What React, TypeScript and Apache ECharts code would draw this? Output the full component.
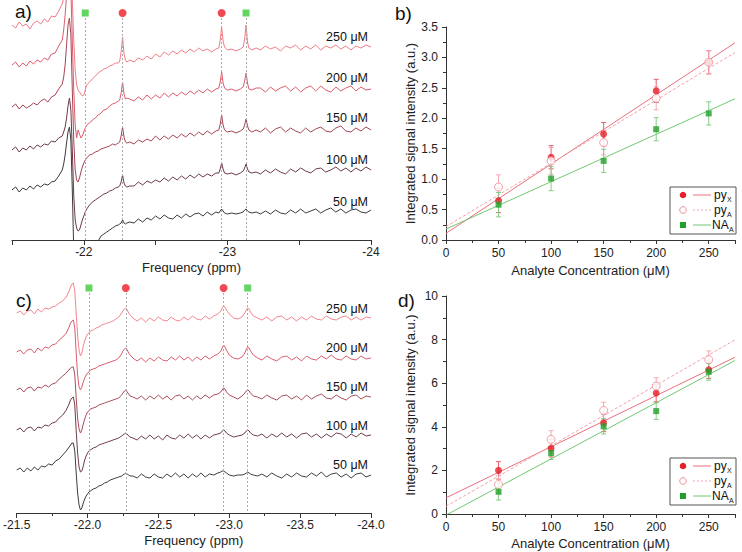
import React, { useEffect, useRef } from 'react';
import * as echarts from 'echarts';

const FONT = '"Liberation Sans", Arial, Helvetica, sans-serif';

// chemical shift grid (ppm) shared by the spectra of panels a) and c)
const ppmGrid = [
  -21.5, -21.525, -21.55, -21.575, -21.6, -21.625, -21.65, -21.675, -21.7, -21.725, -21.75, -21.775, -21.8, -21.825, -21.85,
  -21.86, -21.87, -21.88, -21.89, -21.9, -21.91, -21.92, -21.93, -21.94, -21.95, -21.96, -21.97, -21.98, -21.99, -22, -22.01, -22.02,
  -22.04, -22.06, -22.08, -22.1, -22.12, -22.14, -22.16, -22.18, -22.2, -22.22, -22.24, -22.25, -22.26, -22.27, -22.28, -22.29, -22.3, -22.32,
  -22.35, -22.38, -22.41, -22.44, -22.47, -22.5, -22.53, -22.56, -22.59, -22.62, -22.65, -22.68, -22.71, -22.74, -22.77, -22.8, -22.83, -22.86, -22.89, -22.92,
  -22.94, -22.95, -22.96, -22.97, -22.98, -23, -23.03, -23.06, -23.09, -23.11, -23.12, -23.13, -23.14, -23.15, -23.17, -23.2,
  -23.23, -23.265, -23.3, -23.335, -23.37, -23.405, -23.44, -23.475, -23.51, -23.545, -23.58, -23.615, -23.65, -23.685, -23.72, -23.755, -23.79, -23.825, -23.86, -23.895, -23.93, -23.965, -24,
];

const concentrationLabels = ['250 μM', '200 μM', '150 μM', '100 μM', '50 μM'];

// panel a) stacked spectra (offset intensity, a.u.)
const specA250 = [
  215, 212, 218, 214, 216, 211, 217, 219, 216, 221, 218, 224, 223, 229, 236,
  242, 250, 260, 270, 275, 265, 240, 200, 170, 155, 150, 148, 146, 144, 145, 150, 155,
  158, 161, 164, 167, 169, 171, 172, 174, 175, 177, 177, 179, 188, 203, 186, 180, 178, 180,
  178, 182, 180, 184, 181, 186, 183, 188, 185, 189, 186, 190, 187, 191, 188, 192, 189, 191, 188, 191,
  192, 200, 213, 199, 193, 190, 191, 189, 191, 193, 201, 215, 198, 192, 190, 192,
  190, 194, 191, 193, 189, 194, 192, 195, 190, 194, 191, 195, 190, 194, 192, 195, 191, 194, 190, 194, 192, 195, 193,
];
const specA200 = [
  175, 178, 173, 177, 174, 179, 176, 180, 178, 182, 180, 186, 187, 194, 200,
  210, 225, 245, 260, 265, 250, 200, 150, 115, 102, 110, 106, 102, 104, 108, 112, 115,
  117, 120, 122, 125, 127, 130, 131, 134, 136, 137, 139, 140, 147, 158, 146, 141, 142, 141,
  139, 143, 140, 145, 141, 145, 142, 147, 143, 147, 144, 148, 145, 149, 146, 150, 147, 151, 148, 151,
  152, 158, 168, 157, 152, 150, 151, 149, 151, 153, 159, 167, 157, 151, 150, 152,
  152, 148, 153, 149, 152, 154, 149, 153, 148, 152, 154, 149, 154, 150, 148, 153, 149, 152, 154, 149, 153, 150, 151,
];
const specA150 = [
  133, 136, 131, 135, 132, 134, 137, 135, 139, 141, 138, 143, 145, 151, 156,
  163, 175, 195, 215, 222, 205, 150, 100, 70, 60, 58, 62, 68, 73, 77, 80, 82,
  85, 86, 88, 89, 91, 92, 93, 94, 96, 95, 97, 98, 104, 113, 103, 98, 97, 98,
  96, 100, 98, 101, 99, 104, 100, 104, 101, 105, 102, 106, 103, 107, 104, 108, 105, 109, 106, 109,
  110, 116, 125, 115, 110, 108, 109, 107, 109, 111, 115, 121, 114, 110, 108, 110,
  108, 112, 107, 111, 113, 108, 112, 109, 107, 112, 108, 111, 113, 109, 108, 112, 114, 109, 108, 112, 109, 113, 110,
];
const specA100 = [
  90, 93, 88, 92, 90, 94, 91, 95, 93, 96, 95, 99, 98, 102, 104,
  108, 113, 122, 134, 142, 130, 90, 45, 20, 12, 9, 10, 15, 20, 24, 28, 31,
  35, 38, 40, 42, 44, 46, 47, 49, 50, 52, 53, 54, 58, 65, 57, 54, 53, 54,
  54, 58, 55, 59, 57, 60, 58, 62, 59, 63, 60, 64, 61, 65, 62, 66, 63, 66, 64, 67,
  67, 71, 77, 71, 67, 66, 67, 65, 67, 69, 72, 76, 71, 68, 67, 68,
  66, 70, 67, 71, 68, 66, 71, 68, 72, 69, 67, 71, 72, 68, 70, 73, 69, 72, 68, 72, 69, 73, 70,
];
const specA50 = [
  50, 53, 48, 52, 50, 54, 51, 55, 53, 56, 55, 58, 59, 64, 70,
  76, 85, 97, 108, 113, 100, 50, -10, -40, -50, -50, -45, -40, -35, -30, -25, -20,
  -15, -10, -5, -1, 4, 6, 8, 10, 12, 14, 15, 16, 17, 20, 17, 16, 17, 18,
  17, 21, 18, 22, 20, 24, 21, 25, 22, 21, 25, 22, 26, 23, 26, 27, 24, 28, 25, 28,
  27, 29, 31, 29, 27, 26, 27, 26, 27, 28, 30, 31, 29, 28, 27, 28,
  26, 29, 26, 30, 27, 26, 30, 27, 31, 27, 29, 31, 27, 30, 32, 28, 31, 27, 30, 31, 28, 27, 30,
];

// panel c) stacked spectra (offset intensity, a.u.)
const specC250 = [
  200, 202, 198, 202, 203, 199, 204, 201, 205, 204, 206, 207, 210, 212, 216,
  219, 222, 226, 229, 230, 222, 200, 178, 163, 157, 160, 167, 172, 176, 179, 180, 182,
  183, 185, 186, 188, 189, 190, 191, 192, 194, 196, 200, 202, 204, 205, 203, 200, 198, 195,
  192, 195, 191, 195, 192, 196, 193, 192, 196, 193, 192, 196, 193, 197, 194, 193, 197, 194, 197, 199,
  202, 205, 207, 206, 203, 199, 195, 194, 196, 200, 203, 205, 204, 201, 197, 195,
  193, 196, 192, 196, 197, 193, 196, 192, 196, 193, 197, 194, 193, 197, 194, 193, 196, 197, 193, 196, 193, 196, 195,
];
const specC200 = [
  161, 163, 159, 163, 164, 160, 165, 162, 166, 165, 168, 169, 173, 176, 180,
  183, 186, 190, 192, 193, 185, 160, 138, 126, 123, 126, 131, 135, 138, 140, 141, 143,
  144, 145, 147, 148, 149, 150, 151, 152, 153, 155, 159, 162, 164, 165, 163, 160, 158, 155,
  152, 155, 151, 155, 152, 156, 153, 152, 156, 153, 157, 153, 156, 152, 156, 153, 157, 154, 157, 159,
  162, 165, 168, 166, 163, 158, 155, 154, 156, 160, 164, 166, 165, 162, 158, 155,
  153, 157, 154, 152, 156, 157, 153, 156, 152, 157, 154, 153, 157, 154, 158, 154, 153, 157, 154, 153, 157, 154, 155,
];
const specC150 = [
  123, 125, 121, 125, 126, 122, 126, 125, 128, 126, 129, 130, 134, 137, 140,
  142, 143, 145, 146, 146, 138, 115, 95, 84, 80, 83, 89, 94, 98, 101, 102, 104,
  105, 106, 108, 109, 110, 111, 112, 113, 114, 115, 118, 120, 122, 123, 121, 119, 117, 116,
  114, 117, 113, 117, 114, 118, 114, 117, 113, 117, 118, 114, 117, 113, 117, 114, 118, 115, 118, 119,
  121, 123, 125, 124, 121, 118, 116, 114, 117, 120, 122, 123, 122, 120, 117, 116,
  114, 118, 115, 113, 117, 118, 114, 117, 113, 118, 114, 117, 119, 115, 114, 118, 115, 113, 117, 118, 114, 117, 116,
];
const specC100 = [
  83, 85, 81, 85, 86, 82, 86, 85, 88, 87, 90, 91, 95, 98, 103,
  106, 109, 113, 115, 116, 108, 82, 60, 46, 41, 42, 47, 53, 57, 60, 62, 63,
  65, 66, 68, 69, 70, 71, 72, 73, 74, 75, 77, 78, 79, 80, 79, 77, 76, 75,
  73, 77, 74, 78, 74, 77, 73, 78, 75, 74, 78, 75, 79, 75, 78, 74, 78, 75, 78, 79,
  80, 82, 83, 82, 80, 78, 76, 77, 78, 80, 82, 83, 82, 80, 78, 77,
  79, 75, 79, 76, 80, 76, 79, 75, 79, 80, 76, 79, 75, 79, 76, 80, 79, 75, 79, 76, 80, 77, 78,
];
const specC50 = [
  43, 45, 41, 45, 42, 46, 43, 47, 46, 49, 48, 52, 54, 58, 62,
  64, 66, 68, 70, 70, 62, 40, 20, 8, 3, 5, 10, 14, 17, 19, 21, 22,
  24, 25, 27, 28, 30, 31, 33, 34, 35, 36, 37, 38, 39, 40, 39, 38, 37, 37,
  35, 39, 36, 35, 39, 36, 35, 39, 36, 40, 36, 39, 35, 39, 36, 40, 36, 39, 38, 40,
  41, 42, 42, 41, 40, 38, 37, 38, 38, 39, 40, 41, 40, 39, 38, 37,
  39, 36, 40, 37, 35, 39, 36, 40, 37, 36, 40, 37, 41, 36, 39, 40, 36, 39, 35, 39, 40, 36, 38,
];

// peak assignments (ppm)
const naPeakPpm = [-22.01, -23.13];
const pyPeakPpm = [-22.27, -22.96];

// panels b) and d)
const concentration = [50, 100, 150, 200, 250];
const bPyX = [0.65, 1.36, 1.74, 2.45, 2.92];
const bPyXErr = [0.2, 0.19, 0.19, 0.19, 0.19];
const bPyA = [0.87, 1.3, 1.6, 2.33, 2.92];
const bPyAErr = [0.2, 0.22, 0.2, 0.19, 0.19];
const bNA = [0.58, 1.01, 1.3, 1.82, 2.08];
const bNAErr = [0.2, 0.2, 0.19, 0.19, 0.19];

const dPyX = [2.0, 3.02, 4.18, 5.55, 6.62];
const dPyXErr = [0.4, 0.4, 0.4, 0.4, 0.4];
const dPyA = [1.35, 3.42, 4.75, 5.87, 7.08];
const dPyAErr = [0.4, 0.4, 0.38, 0.38, 0.4];
const dNA = [1.02, 2.8, 4.02, 4.72, 6.52];
const dNAErr = [0.38, 0.3, 0.35, 0.38, 0.38];

const fitX = [0, 275];
const bFitPyX = [0.11, 3.24];
const bFitPyA = [0.22, 3.08];
const bFitNA = [0.18, 2.32];
const dFitPyX = [0.74, 7.19];
const dFitPyA = [0.35, 7.99];
const dFitNA = [-0.05, 7.04];

const colorsA = ['#f07c84', '#dc5a6a', '#a44454', '#6c3a44', '#3a3a3a'];
const colorsC = ['#f2868e', '#d85e6e', '#a84c5c', '#6e3e48', '#3e3e3e'];

const RED = '#e3202a';
const PINK = '#f08a96';
const GREEN = '#20a02a';

const zip = (xs: number[], ys: number[]) => xs.map((x, i) => [x, ys[i]]);

function specX(grid: number, formatter: (v: number) => string, minor: boolean) {
  return {
    gridIndex: grid, type: 'value', min: -24, max: -21.5, inverse: true, interval: 0.5,
    axisLine: { show: true, onZero: false, lineStyle: { color: '#333', width: 1 } },
    axisTick: { show: true, length: 5, lineStyle: { color: '#333' } },
    minorTick: { show: minor, splitNumber: 2, length: 3, lineStyle: { color: '#333' } },
    axisLabel: { formatter, fontSize: 12, color: '#222', fontFamily: FONT, margin: 6 },
    splitLine: { show: false }, minorSplitLine: { show: false },
    name: 'Frequency (ppm)', nameLocation: 'middle', nameGap: 21,
    nameTextStyle: { fontSize: 13, color: '#222', fontFamily: FONT },
  };
}

function concX(grid: number, gap: number) {
  return {
    gridIndex: grid, type: 'value', min: 0, max: 275, interval: 50,
    axisLine: { show: true, onZero: false, lineStyle: { color: '#333', width: 1 } },
    axisTick: { show: true, length: 4, lineStyle: { color: '#333' } },
    minorTick: { show: true, splitNumber: 2, length: 3, lineStyle: { color: '#333' } },
    axisLabel: { formatter: (v: number) => (v % 50 === 0 ? String(v) : ''), fontSize: 12, color: '#222', fontFamily: FONT, margin: 7 },
    splitLine: { show: false }, minorSplitLine: { show: false },
    name: 'Analyte Concentration (μM)', nameLocation: 'middle', nameGap: gap,
    nameTextStyle: { fontSize: 13, color: '#222', fontFamily: FONT },
  };
}

function concY(grid: number, max: number, interval: number, formatter: (v: number) => string) {
  return {
    gridIndex: grid, type: 'value', min: 0, max, interval,
    axisLine: { show: true, onZero: false, lineStyle: { color: '#333', width: 1 } },
    axisTick: { show: true, length: 4, lineStyle: { color: '#333' } },
    minorTick: { show: true, splitNumber: 2, length: 3, lineStyle: { color: '#333' } },
    axisLabel: { formatter, fontSize: 12, color: '#222', fontFamily: FONT, margin: 8 },
    splitLine: { show: false }, minorSplitLine: { show: false },
    name: 'Integrated signal intensity (a.u.)', nameLocation: 'middle', nameGap: 29, nameRotate: 90,
    nameTextStyle: { fontSize: 13, color: '#222', fontFamily: FONT },
  };
}

function spectrum(idx: number, data: number[], color: string) {
  return {
    type: 'line', xAxisIndex: idx, yAxisIndex: idx, data: zip(ppmGrid, data),
    showSymbol: false, symbol: 'none', clip: true, silent: true, z: 2,
    lineStyle: { color, width: 1 },
  };
}

function peakMarkers(idx: number, level: number) {
  const all = [...naPeakPpm, ...pyPeakPpm];
  return [
    {
      type: 'scatter', xAxisIndex: idx, yAxisIndex: idx, silent: true, z: 6,
      data: pyPeakPpm.map((p) => [p, level]), symbol: 'circle', symbolSize: 8,
      itemStyle: { color: '#ee1c25' },
    },
    {
      type: 'scatter', xAxisIndex: idx, yAxisIndex: idx, silent: true, z: 6,
      data: naPeakPpm.map((p) => [p, level]), symbol: 'rect', symbolSize: 7,
      itemStyle: { color: '#39cc39' },
      markLine: {
        silent: true, symbol: 'none', label: { show: false },
        lineStyle: { color: '#ababab', type: [2, 2], width: 1 },
        data: all.map((p) => [{ coord: [p, level - 5] }, { coord: [p, 0] }]),
      },
    },
  ];
}

function errorBars(idx: number, ys: number[], es: number[], color: string) {
  return {
    type: 'custom', xAxisIndex: idx, yAxisIndex: idx, silent: true, z: 3,
    data: concentration.map((x, i) => [x, ys[i], es[i]]),
    encode: { x: 0, y: 1 },
    renderItem: (_params: any, api: any) => {
      const x = api.value(0);
      const y = api.value(1);
      const e = api.value(2);
      const top = api.coord([x, y + e]);
      const bot = api.coord([x, y - e]);
      const hw = 2.5;
      const style = { stroke: color, lineWidth: 1 };
      return {
        type: 'group',
        children: [
          { type: 'line', shape: { x1: top[0], y1: top[1], x2: bot[0], y2: bot[1] }, style },
          { type: 'line', shape: { x1: top[0] - hw, y1: top[1], x2: top[0] + hw, y2: top[1] }, style },
          { type: 'line', shape: { x1: bot[0] - hw, y1: bot[1], x2: bot[0] + hw, y2: bot[1] }, style },
        ],
      };
    },
  };
}

function fitLine(idx: number, ys: number[], color: string, dashed: boolean) {
  return {
    type: 'line', xAxisIndex: idx, yAxisIndex: idx, data: zip(fitX, ys), silent: true,
    showSymbol: false, symbol: 'none', clip: true, z: 4,
    lineStyle: { color, width: 1, type: dashed ? [3, 2] : 'solid' },
  };
}

function points(idx: number, ys: number[], kind: 'pyX' | 'pyA' | 'NA') {
  const base: any = { type: 'scatter', xAxisIndex: idx, yAxisIndex: idx, silent: true, data: zip(concentration, ys) };
  if (kind === 'pyX') return { ...base, z: 5, symbol: 'circle', symbolSize: 7, itemStyle: { color: RED } };
  if (kind === 'pyA') return { ...base, z: 6, symbol: 'circle', symbolSize: 8, itemStyle: { color: '#fff', borderColor: PINK, borderWidth: 1 } };
  return { ...base, z: 7, symbol: 'rect', symbolSize: 6, itemStyle: { color: GREEN } };
}

function text(x: number, y: number, t: string, size: number, align = 'left', color = '#111') {
  return {
    type: 'text', x, y, silent: true, z: 100,
    style: { text: t, fontSize: size, fontFamily: FONT, fill: color, align, verticalAlign: 'middle' },
  };
}

function legendBox(top: number) {
  const rows = [top + 8, top + 23, top + 38];
  return [
    { type: 'rect', silent: true, z: 90, shape: { x: 670, y: top, width: 66, height: 47 }, style: { fill: '#fff', stroke: '#555', lineWidth: 1 } },
    { type: 'circle', silent: true, z: 95, shape: { cx: 683, cy: rows[0], r: 3.3 }, style: { fill: RED } },
    { type: 'line', silent: true, z: 95, shape: { x1: 693, y1: rows[0], x2: 711, y2: rows[0] }, style: { stroke: '#e8707c', lineWidth: 1 } },
    text(714, rows[0], 'py', 12),
    text(727, rows[0] + 4, 'X', 7),
    { type: 'circle', silent: true, z: 95, shape: { cx: 683, cy: rows[1], r: 3.3 }, style: { fill: '#fff', stroke: PINK, lineWidth: 1 } },
    { type: 'line', silent: true, z: 95, shape: { x1: 693, y1: rows[1], x2: 711, y2: rows[1] }, style: { stroke: '#f2a0aa', lineWidth: 1, lineDash: [2, 2] } },
    text(714, rows[1], 'py', 12),
    text(727, rows[1] + 4, 'A', 7),
    { type: 'rect', silent: true, z: 95, shape: { x: 680, y: rows[2] - 3, width: 6, height: 6 }, style: { fill: GREEN } },
    { type: 'line', silent: true, z: 95, shape: { x1: 693, y1: rows[2], x2: 711, y2: rows[2] }, style: { stroke: '#72c872', lineWidth: 1 } },
    text(712, rows[2], 'NA', 12),
    text(729, rows[2] + 4, 'A', 7),
  ];
}

export default function App() {
  const ref = useRef<HTMLDivElement>(null);
  useEffect(() => {
    document.body.style.margin = '0';
    if (!ref.current) return;
    const chart = echarts.init(ref.current, undefined, { renderer: 'svg' });
    const specA = [specA250, specA200, specA150, specA100, specA50];
    const specC = [specC250, specC200, specC150, specC100, specC50];
    const labelYA = [37, 78, 118, 160, 202];
    const labelYC = [309, 348, 387, 426, 465];
    const option: any = {
      animation: false,
      grid: [
        { left: 12, top: 0, width: 359, height: 240 },
        { left: 446, top: 27, width: 289, height: 213 },
        { left: 12, top: 280, width: 359, height: 233 },
        { left: 446, top: 296, width: 289, height: 218 },
      ],
      xAxis: [
        specX(0, (v: number) => (Number.isInteger(v) ? String(v) : ''), false),
        concX(1, 24),
        specX(2, (v: number) => v.toFixed(1), true),
        concX(3, 23),
      ],
      yAxis: [
        { gridIndex: 0, type: 'value', min: 0, max: 240, show: false },
        concY(1, 3.5, 0.5, (v: number) => v.toFixed(1)),
        { gridIndex: 2, type: 'value', min: 0, max: 233, show: false },
        concY(3, 10, 2, (v: number) => String(v)),
      ],
      series: [
        ...specA.map((d, i) => spectrum(0, d, colorsA[i])),
        ...peakMarkers(0, 227),
        ...specC.map((d, i) => spectrum(2, d, colorsC[i])),
        ...peakMarkers(2, 225),
        errorBars(1, bPyX, bPyXErr, '#e8606c'),
        errorBars(1, bPyA, bPyAErr, '#f4aab2'),
        errorBars(1, bNA, bNAErr, '#86cc86'),
        fitLine(1, bFitPyX, '#e8707c', false),
        fitLine(1, bFitPyA, '#f2a0aa', true),
        fitLine(1, bFitNA, '#72c872', false),
        points(1, bPyX, 'pyX'),
        points(1, bPyA, 'pyA'),
        points(1, bNA, 'NA'),
        errorBars(3, dPyX, dPyXErr, '#e8606c'),
        errorBars(3, dPyA, dPyAErr, '#f4aab2'),
        errorBars(3, dNA, dNAErr, '#86cc86'),
        fitLine(3, dFitPyX, '#e8707c', false),
        fitLine(3, dFitPyA, '#f2a0aa', true),
        fitLine(3, dFitNA, '#72c872', false),
        points(3, dPyX, 'pyX'),
        points(3, dPyA, 'pyA'),
        points(3, dNA, 'NA'),
      ],
      graphic: [
        text(15, 11, 'a)', 19),
        text(395, 13, 'b)', 19),
        text(16, 300, 'c)', 19),
        text(398, 300, 'd)', 19),
        ...concentrationLabels.map((t, i) => text(368, labelYA[i], t, 12.5, 'right', '#111')),
        ...concentrationLabels.map((t, i) => text(368, labelYC[i], t, 12.5, 'right', '#111')),
        ...legendBox(187),
        ...legendBox(458),
      ],
    };
    chart.setOption(option);
    return () => chart.dispose();
  }, []);
  return <div ref={ref} style={{ width: 742, height: 552 }} />;
}
